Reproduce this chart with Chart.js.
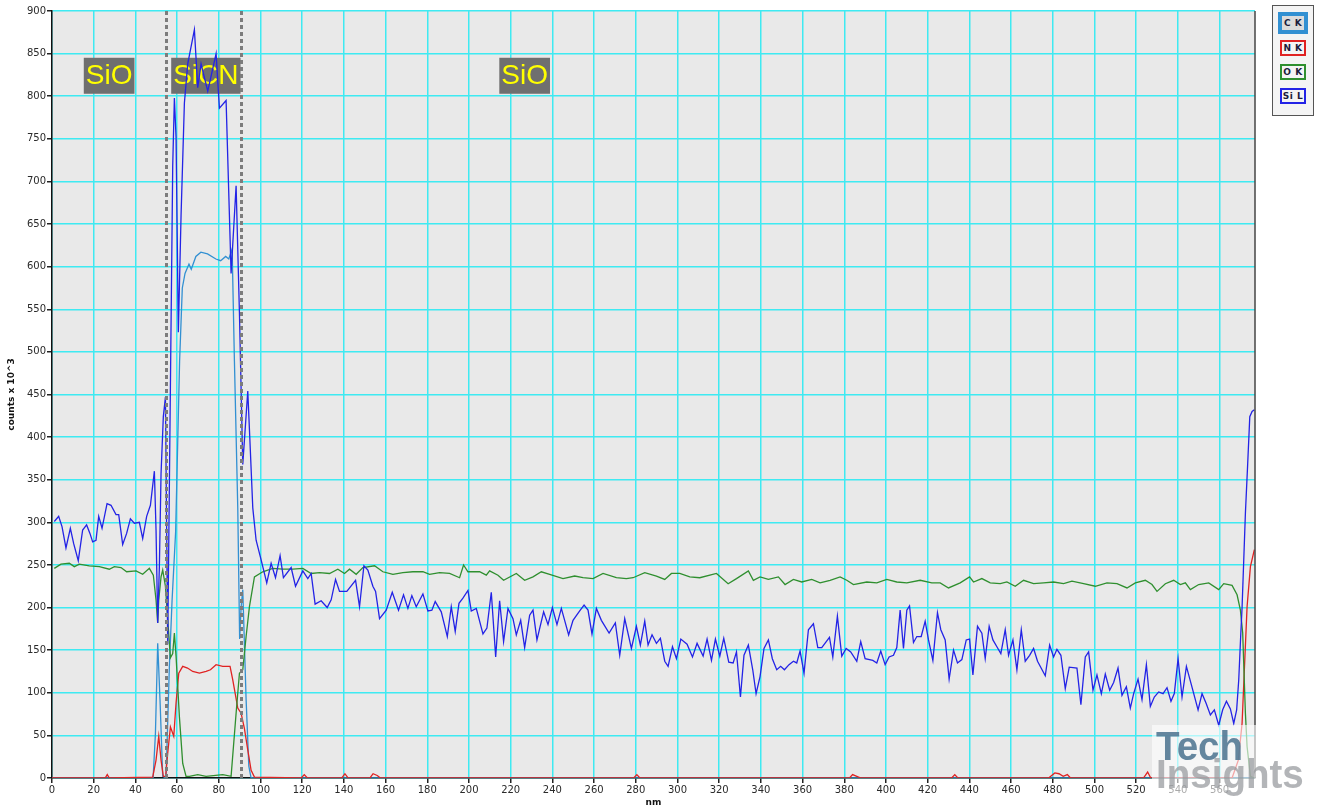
<!DOCTYPE html>
<html>
<head>
<meta charset="utf-8">
<script src="https://cdn.jsdelivr.net/npm/chart.js@4.4.1/dist/chart.umd.min.js"></script>
<style>
  html, body { margin: 0; padding: 0; background: #fff; }
  #wrap { position: relative; width: 1322px; height: 811px; }
  #legend { position: absolute; left: 1272px; top: 5px; width: 40px; height: 109px; border: 1px solid #555; background: #f4f4f4; }
  .item { position: absolute; left: 7px; width: 22px; height: 12px; border: 2px solid; font: bold 9px "DejaVu Sans", sans-serif; color: #1c1c3c; text-align: center; line-height: 12px; letter-spacing: 0.5px; white-space: nowrap; }
</style>
</head>
<body>
<div id="wrap">
  <canvas id="myChart" width="1322" height="811"></canvas>
  <div id="legend"></div>
</div>
<script>
// series, [nm, counts x 10^3]
const cK = [[0,0],[48.5,0],[49.6,52],[50.7,158],[51.8,92],[53.1,2],[54.7,0],[56.3,131],[57.6,209],[59.3,289],[61.2,489],[62.5,575],[63.8,592],[65.7,603],[66.8,597],[69,612],[71.4,617],[74.6,615],[78.6,609],[80.9,607],[83.3,612],[84.8,609],[86.4,621],[87.5,489],[89.1,317],[90,163],[90.7,200],[91.5,221],[93.1,92],[94.4,14],[95.5,0],[577,0]];

const nK = [[0,0],[25.5,0],[26.5,4],[27.5,0],[48.3,1],[49.9,21],[51.2,49],[52.3,21],[53.4,2],[54.5,2],[55.5,29],[56.8,60],[58.4,49],[59.5,88],[60.8,123],[62.7,131],[65,129],[67.5,125],[70.7,123],[73.9,125],[76,127],[78.7,133],[81.9,131],[85.4,131],[86.7,115],[89.1,82],[90.7,76],[92.3,58],[93.9,33],[95.5,9],[97.1,1],[119.5,0],[121,4],[122.5,0],[139,0],[140.5,5],[142,0],[152.5,0],[154,5],[156,3],[157.5,0],[279,0],[280.5,4],[282,0],[382.5,0],[384,4],[386,2],[388,0],[431.5,0],[433,4],[434.5,0],[478,0],[481,6],[483,5],[485,2],[487,4],[488.5,0],[523.5,0],[525.5,7],[527,0],[566,0],[569,21],[570.8,64],[571.9,127],[573.2,201],[574.8,248],[576.7,268]];

const oK = [[1.1,246],[4.3,251],[8.3,252],[10.7,248],[13.1,251],[17.9,249],[22.7,248],[27.5,245],[29.9,248],[33.1,247],[35.8,242],[40.3,243],[43.5,239],[46.7,246],[48.6,238],[49.9,209],[50.7,182],[51.2,209],[52.3,236],[53.1,244],[54.4,225],[55.5,186],[56.8,141],[57.9,146],[58.7,170],[59.5,143],[61.1,72],[62.7,17],[64.3,2],[65.9,2],[69.9,4],[73.9,2],[81.9,4],[85.9,2],[88.3,76],[89.9,123],[91.5,127],[93.1,166],[94.7,201],[97.1,236],[101.1,242],[105.9,246],
  [110.7,245],[115.5,245],[120.3,246],[124.3,240],[128.3,241],[133.1,240],[137.1,245],[140.3,240],[142.7,245],[145.9,239],[149.1,247],[154.7,249],[158.7,242],[163.5,239],[168.3,241],[173.1,242],[177.9,242],[181.1,239],[185.9,241],[190.7,240],[195.5,235],[197.4,250],[199.5,242],[205.1,242],[208.3,238],[209.9,243],[213.9,238],[216.6,232],[222.7,240],[226.7,232],[230.7,236],[234.7,242],[238.7,239],[245.1,234],[250.7,237],[254.7,235],[259.5,234],[264.3,240],[270.7,235],[275.5,234],[278.7,235],[284.3,241],[289.9,237],[293.9,233],[297.1,240],[301.1,240],[305.9,236],[310.7,235],[318.7,240],[324.3,228],[328.3,234],
  [334,243],[336.4,232],[339.6,236],[343.6,233],[348.4,236],[351.6,227],[355.6,233],[359.6,230],[364.4,233],[368.4,229],[373.2,232],[378,236],[381.2,232],[384.4,227],[390.8,230],[395.6,229],[400.4,233],[405.2,230],[410,229],[416.4,232],[422,229],[426,229],[430,223],[435.6,229],[440.1,236],[442,230],[446,234],[450,229],[454.8,228],[458,230],[462,225],[466,232],[470.8,228],[475.6,229],[480.4,230],[485.2,228],[489.2,231],[494.8,228],[500.4,225],[506,229],[510.8,228],[515.6,223],[519.6,229],[524.4,232],[527.6,227],[530,219],[534,228],[538,232],[541.2,227],[543.6,229],[546,221],[550,227],[554.8,229],[559.6,221],[562,228],[566,226],[568.4,215],[570,197],[571.1,170],[572.4,76],[573.2,37],[574.8,2],[576.7,0]];

const siL = [[1.1,301],[3.2,307],[4.8,295],[6.7,270],[8.8,293],[10.4,275],[12.6,255],[14.7,291],[16.6,297],[18.2,287],[19.5,277],[21.1,279],[22.4,307],[24,293],[26.4,322],[28.3,320],[30.7,309],[32,309],[33.9,274],[35.8,287],[37.6,304],[39.5,299],[41.9,300],[43.5,281],[45.4,307],[47.2,320],[49.1,360],[49.9,291],[50.7,182],[51.5,248],[52.3,357],[53.4,424],[54.4,447],[55.5,157],[57.9,718],[58.7,798],[59.5,752],[60.6,523],[61.9,660],[63.5,792],[65.1,838],[68.3,878],[69.9,810],[71.5,838],[74.7,806],[78.7,850],[80.3,786],[83.5,795],[85.9,592],[88.3,695],[89.9,546],[91.5,368],[93.9,454],[95.1,386],[96.3,317],[97.9,279],
  [100.3,256],[103,229],[105.1,252],[107.2,235],[109.4,261],[111,235],[114.7,247],[116.8,225],[120.3,243],[122.7,234],[124.3,240],[126.2,204],[129.1,208],[132,200],[133.9,209],[136,233],[137.9,219],[141.4,219],[145.6,232],[147.5,201],[149.6,249],[151.5,244],[153.9,225],[155.2,219],[157.1,187],[160.3,197],[163.2,218],[166.2,197],[168.6,215],[170.7,199],[172.6,214],[174.7,201],[177.9,216],[180.3,196],[182.2,197],[183.8,207],[186.7,195],[189.6,166],[191.5,201],[193.4,172],[195.2,205],[197.1,211],[199.5,220],[201.1,196],[203.5,199],[206.7,169],[208.6,176],[210.7,218],[212.8,142],[214.7,208],[216.6,160],[218.7,199],[221.1,187],[222.7,168],[224.8,185],[226.7,153],[229.1,191],[230.7,197],[232.6,162],[235.8,195],[237.9,180],[240,200],[242.2,180],[244.3,199],[247.8,168],[249.9,185],[253.1,196],[255.2,203],[257.1,197],[259,169],[261.1,199],[263.5,185],[267.2,170],[270.2,182],[272.3,144],[274.7,187],[277.9,152],[280.3,178],[282.2,156],[284.3,184],[285.9,156],[287.8,168],[289.9,158],[291.8,164],[293.9,137],[295.5,131],[297.6,154],[299.5,140],[301.6,163],[304.6,157],[307.2,142],[309.4,158],[312.3,143],[314.2,163],[316.3,138],[318.2,163],[320.3,143],[322.2,164],[324.6,136],[326.7,135],[328.3,148],
  [330.2,95],[331.9,144],[334,156],[336.1,127],[337.7,99],[339.6,119],[341.5,152],[343.6,162],[345.5,140],[347.6,127],[349.5,131],[351.3,127],[353.5,133],[355.6,137],[357.2,135],[358.8,149],[360.7,123],[362.8,174],[365.2,181],[367.3,153],[369.2,153],[372.9,165],[374.5,142],[376.7,190],[378.8,143],[380.9,152],[383.1,148],[386,137],[387.9,160],[390,140],[393.7,138],[395.6,135],[397.5,149],[399.6,133],[401.5,142],[403.6,144],[405.2,153],[406.8,197],[408.4,152],[410,197],[411.3,202],[413.2,159],[414.8,166],[416.9,166],[418.8,184],[420.4,162],[422.5,138],[424.7,194],[426.3,174],[428.4,162],[430.3,116],[432.4,150],[434.3,135],[436.4,139],[438.5,162],[440.1,163],[441.7,121],[443.9,178],[446,170],[447.6,140],[449.5,178],[451.3,162],[453.2,154],[455.1,146],[457.2,174],[458.8,144],[460.9,162],[462.8,127],[464.9,174],[466.8,137],[468.9,144],[470.8,152],[472.7,137],[476.4,120],[478.5,156],[480.4,142],[482,151],[483.9,144],[486,105],[487.9,130],[491.6,129],[493.5,86],[495.6,142],[497.2,148],[499.3,103],[501.2,121],[503.3,99],[505.2,122],[507.3,103],[509.2,112],[511.3,129],[513.2,97],[515.3,107],[517.2,82],[518.8,99],[520.9,116],[522.8,92],[524.9,133],[526.8,84],[528.7,95],[530.8,101],[532.9,99],[534.8,106],[536.7,90],[538.3,99],[540.1,140],[542,95],[544.1,131],[546.3,111],[549.7,80],[551.6,99],[553.5,88],[555.6,74],[557.5,80],[559.6,62],[561.5,80],[563.3,90],[565.2,81],[566.8,64],[568.2,80],[569.2,115],[570.2,170],[570.8,200],[572.4,311],[573.5,369],[574.5,424],[575.6,430],[576.7,432]];

const seriesNames = ['C K', 'N K', 'O K', 'Si L'];
const seriesColors = ['#3290d2', '#e02222', '#2f8f2f', '#2323e6'];

const xTicks = [0,20,40,60,80,100,120,140,160,180,200,220,240,260,280,300,320,340,360,380,400,420,440,460,480,500,520,540,560];
const yTicks = [0,50,100,150,200,250,300,350,400,450,500,550,600,650,700,750,800,850,900];

// layer labels and interface markers (nm)
const layerText = ['SiO', 'SiCN', 'SiO'];
const layerCenter = [27.4, 73.8, 226.7];
const layerLevel = 824;
const interfaces = [54.7, 90.5];

const toXY = (arr) => arr.map((p) => ({x: p[0], y: p[1]}));
const seriesData = [cK, nK, oK, siL];

const plotBg = {
    id: 'plotBg',
    beforeDraw(chart) {
        const {ctx, chartArea: a} = chart;
        ctx.save();
        ctx.fillStyle = '#e9e9e9';
        ctx.fillRect(a.left, a.top, a.right - a.left, a.bottom - a.top);
        ctx.restore();
    }
};

const layerLabels = {
    id: 'layerLabels',
    beforeDatasetsDraw(chart) {
        const {ctx, scales} = chart;
        ctx.save();
        ctx.font = '28px "Liberation Sans", Arial, sans-serif';
        ctx.textAlign = 'center';
        ctx.textBaseline = 'middle';
        layerText.forEach((t, i) => {
            const cx = scales.x.getPixelForValue(layerCenter[i]);
            const cy = scales.y.getPixelForValue(layerLevel);
            const w = ctx.measureText(t).width + 4;
            ctx.fillStyle = '#6f6f6f';
            ctx.fillRect(cx - w / 2, cy - 18, w, 36);
            ctx.fillStyle = '#ffff00';
            ctx.fillText(t, cx, cy + 1);
        });
        ctx.restore();
    },
    afterDatasetsDraw(chart) {
        const {ctx, scales, chartArea: a} = chart;
        ctx.save();
        ctx.strokeStyle = '#7c7c7c';
        ctx.lineWidth = 3;
        ctx.setLineDash([4, 3]);
        interfaces.forEach((v) => {
            const px = Math.round(scales.x.getPixelForValue(v)) + 0.5;
            ctx.beginPath();
            ctx.moveTo(px, a.top);
            ctx.lineTo(px, a.bottom);
            ctx.stroke();
        });
        ctx.restore();
    },
    afterDraw(chart) {
        const {ctx, chartArea: a} = chart;
        ctx.save();
        // right frame
        ctx.strokeStyle = '#444';
        ctx.lineWidth = 1.5;
        ctx.beginPath();
        ctx.moveTo(a.right, a.top);
        ctx.lineTo(a.right, a.bottom);
        ctx.stroke();
        // watermark
        ctx.fillStyle = 'rgba(255,255,255,0.6)';
        ctx.fillRect(1152, 725, 106, 80);
        ctx.translate(1156, 0);
        ctx.scale(0.94, 1);
        ctx.font = 'bold 41px "Liberation Sans", Arial, sans-serif';
        ctx.textBaseline = 'alphabetic';
        ctx.fillStyle = 'rgba(80,118,146,0.88)';
        ctx.fillText('Tech', 0, 760);
        ctx.fillStyle = 'rgba(150,152,156,0.72)';
        ctx.fillText('Insights', 0, 788);
        ctx.restore();
    }
};

const tickFont = {family: '"DejaVu Sans", Verdana, sans-serif', size: 10};

const config = {
    type: 'scatter',
    data: {
        datasets: seriesNames.map((name, i) => ({
            label: name,
            data: toXY(seriesData[i]),
            showLine: true,
            borderColor: seriesColors[i],
            backgroundColor: seriesColors[i],
            borderWidth: 1.3,
            pointRadius: 0,
            tension: 0,
            order: 4 - i
        }))
    },
    plugins: [plotBg, layerLabels],
    options: {
        responsive: false,
        animation: false,
        layout: {padding: {top: 11, right: 67, left: 0, bottom: 0}},
        plugins: {legend: {display: false}, tooltip: {enabled: false}},
        scales: {
            x: {
                type: 'linear',
                min: 0,
                max: 577,
                afterBuildTicks: (s) => { s.ticks = xTicks.map((v) => ({value: v})); },
                afterFit: (s) => { s.height = 33; },
                ticks: {font: tickFont, color: '#2a2a2a', padding: 1, maxRotation: 0, autoSkip: false},
                grid: {color: '#3eeaf2', lineWidth: 1.5, tickLength: 5, tickColor: '#222'},
                border: {color: '#111', width: 1.5},
                title: {display: true, text: 'nm', font: {family: '"DejaVu Sans", sans-serif', size: 9, weight: 'bold'}, color: '#111', padding: {top: 0, bottom: 3}}
            },
            y: {
                type: 'linear',
                min: 0,
                max: 900,
                afterBuildTicks: (s) => { s.ticks = yTicks.map((v) => ({value: v})); },
                afterFit: (s) => { s.width = 52; },
                ticks: {font: tickFont, color: '#2a2a2a', padding: 1},
                grid: {color: '#3eeaf2', lineWidth: 1.5, tickLength: 5, tickColor: '#222'},
                border: {color: '#111', width: 1.5},
                title: {display: true, text: 'counts x 10^3', font: {family: '"DejaVu Sans", sans-serif', size: 9, weight: 'bold'}, color: '#111', padding: {top: 6, bottom: 0}}
            }
        }
    }
};

var myChart = new Chart(document.getElementById('myChart'), config);

// legend boxes like the instrument software
const legendTops = [6, 34, 58, 82];
const legend = document.getElementById('legend');
seriesNames.forEach((name, i) => {
    const d = document.createElement('div');
    d.className = 'item';
    d.textContent = name;
    d.style.borderColor = seriesColors[i];
    d.style.top = legendTops[i] + 'px';
    if (i === 0) {
        d.style.borderWidth = '4px';
        d.style.left = '5px';
        d.style.height = '14px';
        d.style.lineHeight = '14px';
        d.style.background = '#dcdcdc';
    }
    legend.appendChild(d);
});
</script>
</body>
</html>
